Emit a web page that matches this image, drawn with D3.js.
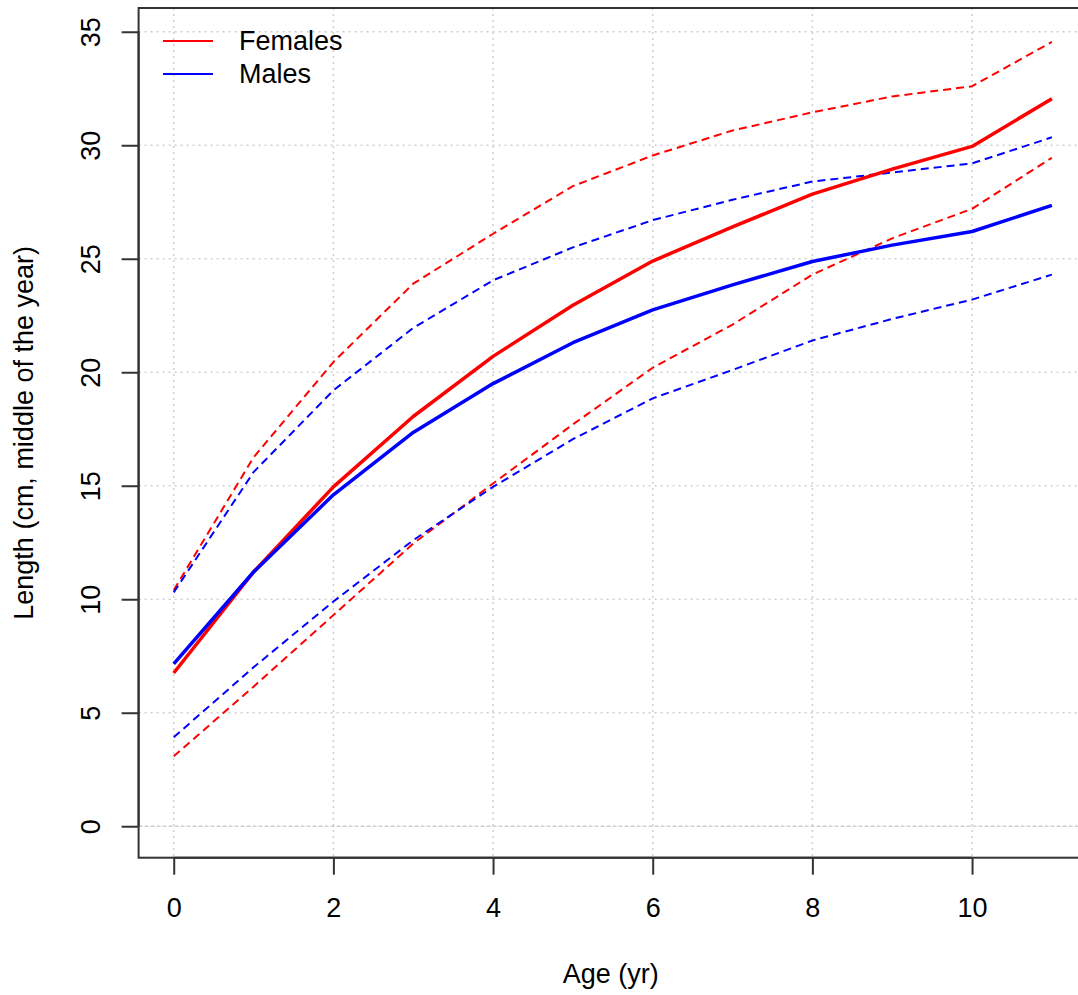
<!DOCTYPE html>
<html>
<head>
<meta charset="utf-8">
<script src="https://cdn.jsdelivr.net/npm/d3@7"></script>
<style>
html,body{margin:0;padding:0;background:#fff;}
svg{display:block;}
text{font-family:"Liberation Sans",Arial,sans-serif;fill:#000;}
</style>
</head>
<body>
<svg id="chart" width="1078" height="995"></svg>
<script>
// ---- data ----
const ages = [0,1,2,3,4,5,6,7,8,9,10,11];
const femaleMean  = [6.75,11.2,14.95,18.05,20.7,22.95,24.9,26.4,27.85,28.95,29.95,32.05];
const femaleUpper = [10.4,16.25,20.45,23.9,26.1,28.2,29.55,30.65,31.45,32.15,32.6,34.55];
const femaleLower = [3.08,6.15,9.3,12.45,15.1,17.7,20.2,22.1,24.3,25.9,27.2,29.45];
const maleMean    = [7.15,11.2,14.6,17.35,19.5,21.3,22.75,23.85,24.88,25.6,26.2,27.35];
const maleUpper   = [10.3,15.6,19.2,21.95,24.05,25.5,26.7,27.6,28.4,28.8,29.2,30.35];
const maleLower   = [3.92,7.0,9.9,12.6,14.95,17.05,18.85,20.1,21.4,22.35,23.2,24.3];
const xTicks = [0,2,4,6,8,10];
const yTicks = [0,5,10,15,20,25,30,35];
const legendLabels = ["Females","Males"];
const xLabel = "Age (yr)";
const yLabel = "Length (cm, middle of the year)";

(function () {
// ---- layout ----
const svg = d3.select("#chart");
const pL = 138.6, pR = 1087, pT = 8, pB = 857.7;
const xMin = 0, xMax = 11, yMin = 0, yMax = 34.66;
const xPad = (xMax - xMin) * 0.04, yPad = (yMax - yMin) * 0.04;
const x = d3.scaleLinear().domain([xMin - xPad, xMax + xPad]).range([pL, pR]);
const y = d3.scaleLinear().domain([yMin - yPad, yMax + yPad]).range([pB, pT]);
const FS = 27;

// grid
const grid = svg.append("g");
grid.selectAll("line.vx").data(xTicks).join("line")
  .attr("x1", d => x(d)).attr("x2", d => x(d))
  .attr("y1", pT).attr("y2", pB)
  .attr("stroke", "#cfcfcf").attr("stroke-width", 1.5).attr("stroke-dasharray", "2,4");
grid.selectAll("line.hy").data(yTicks).join("line")
  .attr("x1", pL).attr("x2", pR)
  .attr("y1", d => y(d)).attr("y2", d => y(d))
  .attr("stroke", "#cfcfcf").attr("stroke-width", 1.5).attr("stroke-dasharray", d => d === 0 ? "4,2" : "2,4");

// series
const line = d3.line().x((d, i) => x(ages[i])).y(d => y(d));
const series = [
  {v: femaleUpper, c: "#ff0000", w: 2, dash: "8,5"},
  {v: femaleLower, c: "#ff0000", w: 2, dash: "8,5"},
  {v: maleUpper, c: "#0000ff", w: 2, dash: "8,5"},
  {v: maleLower, c: "#0000ff", w: 2, dash: "8,5"},
  {v: femaleMean, c: "#ff0000", w: 3.5, dash: null},
  {v: maleMean, c: "#0000ff", w: 3.5, dash: null}
];
svg.append("g").selectAll("path").data(series).join("path")
  .attr("d", d => line(d.v))
  .attr("fill", "none")
  .attr("stroke", d => d.c)
  .attr("stroke-width", d => d.w)
  .attr("stroke-linejoin", "round")
  .attr("stroke-dasharray", d => d.dash);

// box
svg.append("rect").attr("x", pL).attr("y", pT)
  .attr("width", pR - pL).attr("height", pB - pT)
  .attr("fill", "none").attr("stroke", "#333").attr("stroke-width", 2);

// axes
const xAxis = d3.axisBottom(x).tickValues(xTicks).tickSize(17).tickPadding(23).tickFormat(d3.format("d"));
const gx = svg.append("g").attr("transform", `translate(0,${pB})`).call(xAxis);
gx.select(".domain").attr("d", `M${x(xTicks[0])},0H${x(xTicks[xTicks.length-1])}`).attr("stroke", "#333").attr("stroke-width", 2);
gx.selectAll(".tick line").attr("stroke", "#333").attr("stroke-width", 2);
gx.selectAll(".tick text").attr("font-size", FS).attr("font-family", "Liberation Sans, Arial, sans-serif").attr("fill", "#000").attr("dy", "0.71em");

const yAxis = d3.axisLeft(y).tickValues(yTicks).tickSize(17).tickFormat(d3.format("d"));
const gy = svg.append("g").attr("transform", `translate(${pL},0)`).call(yAxis);
gy.select(".domain").attr("d", `M0,${y(yTicks[0])}V${y(yTicks[yTicks.length-1])}`).attr("stroke", "#333").attr("stroke-width", 2);
gy.selectAll(".tick line").attr("stroke", "#333").attr("stroke-width", 2);
gy.selectAll(".tick text")
  .attr("font-size", FS).attr("font-family", "Liberation Sans, Arial, sans-serif").attr("fill", "#000")
  .attr("x", null).attr("dy", null)
  .attr("text-anchor", "middle")
  .attr("transform", `translate(${100 - pL},0) rotate(-90)`);

// axis titles
svg.append("text").attr("x", (pL + pR) / 2 - 2).attr("y", 983)
  .attr("text-anchor", "middle").attr("font-size", FS).text(xLabel);
svg.append("text")
  .attr("transform", `translate(33,${(pT + pB) / 2}) rotate(-90)`)
  .attr("text-anchor", "middle").attr("font-size", FS).text(yLabel);

// legend
const lg = svg.append("g");
const legendColors = ["#ff0000", "#0000ff"];
legendLabels.forEach((lab, i) => {
  const ly = 41 + i * 33;
  lg.append("line").attr("x1", 163).attr("x2", 213).attr("y1", ly).attr("y2", ly)
    .attr("stroke", legendColors[i]).attr("stroke-width", 2);
  lg.append("text").attr("x", 239).attr("y", ly).attr("dy", "0.35em")
    .attr("font-size", FS).text(lab);
});
})();
</script>
</body>
</html>
